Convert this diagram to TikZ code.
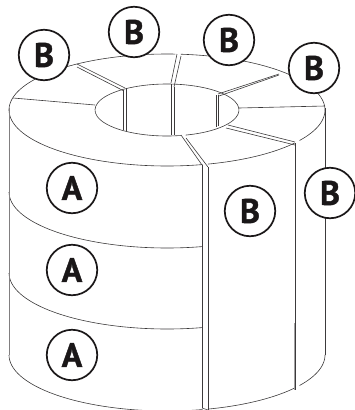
\documentclass[tikz,border=0pt]{standalone}
\usepackage{fontspec}
\setmainfont[BoldFeatures={FakeBold=1.2}]{PT Sans}
\definecolor{ink}{HTML}{1A1718}
\tikzset{
  edge/.style={draw=ink!85,line width=0.6pt,line join=round},
  softedge/.style={draw=ink!55,line width=1pt},
  callout/.style={circle,draw=ink,line width=1.7pt,fill=white,minimum size=50.5pt,inner sep=0pt,font=\fontsize{34}{34}\selectfont\bfseries,text=ink},
}
\newcommand{\outerarc}[3]{\draw[edge] plot[smooth,domain=#1:#2,samples=40] ({167+158*cos(\x)},{#3+56*sin(\x)});}
\newcommand{\innerarc}[2]{\draw[edge] plot[smooth,domain=#1:#2,samples=50] ({167+72*cos(\x)},{110+26*sin(\x)});}
\begin{document}
\begin{tikzpicture}[x=1pt,y=-1pt]
\useasboundingbox (0,0) rectangle (355,410);
% top face, outer rim
\outerarc{77}{180}{110}
\outerarc{180}{214}{110}
\outerarc{215}{273}{110}
\outerarc{275}{360}{110}
\outerarc{36}{75}{110}
\outerarc{0}{33}{110}
% bands and base
\outerarc{77}{180}{192}
\outerarc{77}{180}{273}
\outerarc{77}{180}{355}
\outerarc{36}{75}{355}
\outerarc{0}{33}{355}
% inner hole
\innerarc{79}{435}
% radial joints on the top face
\draw[edge] (13,98) -- (95,105);
\draw[edge] (77,64) -- (125,88);
\draw[edge] (77,67) -- (124,91);
\draw[edge] (177,54) -- (171,83);
\draw[edge] (181,56) -- (174,87);
\draw[edge] (279,74) -- (218,94);
\draw[edge] (279,75) -- (219,96);
\draw[edge] (325,106) -- (239,108);
\draw[edge] (295,142) -- (228,125);
\draw[edge] (295,145) -- (226,128);
\draw[edge] (181,135) -- (202,165);
\draw[edge] (186,138) -- (208,167);
% verticals inside the hole
\draw[edge] (123,90) -- (123,130);
\draw[edge] (126,88) -- (126,131);
\draw[edge] (171,84) -- (171,135);
\draw[edge] (174,87) -- (174,135);
\draw[edge] (216,95) -- (216,127);
\draw[edge] (218,95) -- (218,126);
% outer verticals
\draw[softedge] (9,108) -- (9,355);
\draw[edge] (202,165) -- (202,408);
\draw[edge] (208,167) -- (208,410);
\draw[edge] (202,408) -- (208,410);
\draw[edge] (295.5,143) -- (295.5,390);
\draw[edge,draw=ink!40] (294.2,323) -- (294.2,390);
\draw[edge] (325,108) -- (325,355);
% callouts
\node[callout] (a1) at (72,188) {A};
\node[callout] (a2) at (72,270) {A};
\node[callout] (a3) at (72,355) {A};
\node[callout] (b1) at (44,55) {B};
\node[callout] (b2) at (134,32) {B};
\node[callout] (b3) at (229,40) {B};
\node[callout] (b4) at (314,68) {B};
\node[callout] (b5) at (330,193) {B};
\node[callout] (b6) at (250,211) {B};
\end{tikzpicture}
\end{document}
